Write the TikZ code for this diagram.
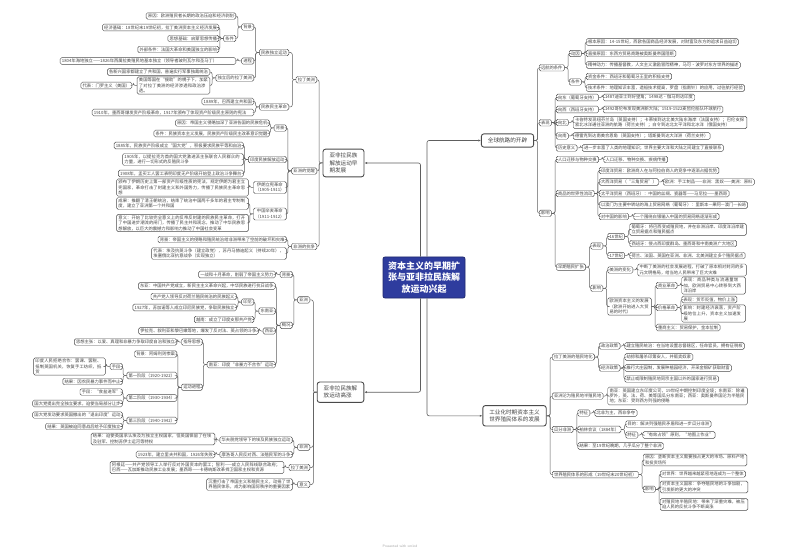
\documentclass[tikz,border=0pt]{standalone}
\usepackage{fontspec}
\newfontfamily\cjk{Noto Sans CJK SC}
\XeTeXlinebreaklocale "zh"
\XeTeXlinebreakskip = 0pt plus 0.5pt
\usetikzlibrary{arrows.meta}
\definecolor{bd}{HTML}{4A4A4A}
\definecolor{ln}{HTML}{5E5E5E}
\definecolor{tx}{HTML}{444444}
\definecolor{cb}{HTML}{2E3C9E}
\tikzset{
 bx/.style={draw=bd, fill=white, rounded corners=1.5pt, line width=0.45pt, inner xsep=1.8pt, inner ysep=1.25pt, font=\cjk\fontsize{4.3}{5.4}\selectfont, text=tx, align=left},
 lb/.style={bx, anchor=east},
 rb/.style={bx, anchor=west},
 mn/.style={draw=bd, fill=white, rounded corners=2.5pt, line width=0.9pt, inner xsep=6.5pt, inner ysep=4pt, font=\cjk\fontsize{5.6}{7.2}\selectfont, text=tx, align=left},
 ctr/.style={draw=cb!70!black, fill=cb, rounded corners=2pt, line width=0.8pt, font=\cjk\bfseries\fontsize{9}{11.5}\selectfont, text=white, align=center, minimum width=82pt, minimum height=41pt},
 conn/.style={draw=ln, line width=0.5pt, rounded corners=2pt},
 mconn/.style={draw=ln, line width=0.6pt, rounded corners=2pt, -{Latex[length=2.6pt,width=2.2pt]}}
}
\newcommand\lkL[2]{\draw[conn] (#1.west) -- ++(-3.5,0) |- (#2.east);}
\newcommand\lkR[2]{\draw[conn] (#1.east) -- ++(3.5,0) |- (#2.west);}
\begin{document}
\begin{tikzpicture}[x=1pt,y=-1pt]
\useasboundingbox (0,0) rectangle (800,553);
\fill[white] (0,0) rectangle (800,553);

% ---------- central and main nodes
\node[ctr] (c0) at (424,277.5) {资本主义的早期扩\\张与亚非拉民族解\\放运动兴起};
\node[mn] (A) at (343.5,163) {亚非拉民族\\解放运动早\\期发展};
\node[mn] (B) at (340.5,392.2) {亚非拉民族解\\放运动高涨};
\node[mn] (C) at (507.5,140.5) {全球航路的开辟};
\node[mn] (D) at (514.5,415.8) {工业化时期资本主义\\世界殖民体系的发展};
\draw[mconn] ([xshift=-3.5pt]c0.north) |- (A.east);
\draw[mconn] ([xshift=3pt]c0.north) |- (C.west);
\draw[mconn] ([xshift=-3.5pt]c0.south) |- (B.east);
\draw[mconn] ([xshift=3pt]c0.south) |- (D.west);

% ---------- A subtree
\node[lb] (a1) at (317,79.75) {拉丁美洲};
\node[lb] (a11) at (289,52.5) {民族独立运动};
\node[lb] (a111) at (254,27) {背景};
\node[lb] (a1111) at (236,16) {原因：欧洲殖民者长期的政治压迫和经济剥削};
\node[lb] (a1112) at (236,38.5) {条件};
\node[lb] (a11121) at (219,27.5) {经济基础：18世纪末19世纪初，拉丁美洲资本主义经济发展};
\node[lb] (a11122) at (219,38.5) {思想基础：启蒙思想传播};
\node[lb] (a11123) at (219,49.5) {外部条件：法国大革命和美国独立的影响};
\node[lb] (a112) at (254,61) {进程};
\node[lb, text width=172pt] (a1121) at (236,61) {1804年海地独立——1826年西属拉美殖民地基本独立（领导者玻利瓦尔和圣马丁）};
\node[lb] (a113) at (254,78) {独立后的拉丁美洲};
\node[lb] (a1131) at (210,72) {各新兴国家都建立了共和国，普遍实行军事独裁统治};
\node[lb, text width=69pt] (a1132) at (210,85.5) {美国等国在“援助”的幌子下，加紧了对拉丁美洲的经济渗透和政治渗透。};
\node[lb] (a11321) at (132,85.5) {代表：门罗主义（美国）};
\node[lb] (a12) at (289,107) {民族民主革命};
\node[lb] (a121) at (254,101.5) {1889年，巴西建立共和国};
\node[lb, text width=158pt] (a122) at (254,112.5) {1910年，墨西哥爆发资产阶级革命，1917年颁布了体现资产阶级民主原则的宪法};

\node[lb] (a2) at (317,171) {亚洲的觉醒};
\node[lb] (a21) at (286.5,128) {背景};
\node[lb] (a211) at (269.5,123) {原因：帝国主义侵略加深了亚洲各国的民族危机};
\node[lb] (a212) at (269.5,133.5) {条件：民族资本主义发展，民族资产阶级民主改革意识觉醒};
\node[lb] (a22) at (286.5,159.5) {印度民族解放运动};
\node[lb] (a221) at (243.5,145.5) {1885年，民族资产阶级成立“国大党”，积极要求民族平等和自治};
\node[lb, text width=117pt] (a222) at (243.5,159.5) {1905年，以提拉克为首的国大党激进派主张联合人民群众的力量，进行一切形式的反殖民斗争};
\node[lb] (a223) at (243.5,173.5) {1908年，孟买工人罢工表明印度无产阶级开始登上政治斗争舞台};
\node[lb, align=center] (a23) at (286.5,187.5) {伊朗立宪革命\\（1905-1911）};
\node[lb, text width=128pt] (a231) at (248.5,187.5) {颁布了伊朗历史上第一部资产阶级性质的宪法，规定伊朗为君主立宪国家，革命打击了封建主义和外国势力，传播了民族民主革命思想};
\node[lb, align=center] (a24) at (286.5,214) {中国辛亥革命\\（1911-1912）};
\node[lb, text width=128pt] (a241) at (248.5,203.5) {成果：推翻了清王朝统治，结束了统治中国两千多年的君主专制制度，建立了亚洲第一个共和国};
\node[lb, text width=128pt] (a242) at (248.5,223) {意义：开始了比较完全意义上的反帝反封建的民族民主革命，打开了中国进步潮流的闸门，传播了民主共和观念，推动了中华民族思想解放，以巨大的震撼力和影响力推动了中国社会变革};

\node[lb] (a3) at (317,246.5) {非洲的抗争};
\node[lb] (a31) at (286.5,239.5) {背景：帝国主义的侵略和殖民统治给非洲带来了空前的破坏和灾难};
\node[lb, text width=131pt] (a32) at (286.5,253.5) {代表：埃及抗英斗争（建立政党），苏丹马赫迪起义（持续20年），埃塞俄比亚抗意战争（实现独立）};

\lkL{A}{a1}\lkL{A}{a2}\lkL{A}{a3}
\lkL{a1}{a11}\lkL{a1}{a12}
\lkL{a11}{a111}\lkL{a11}{a112}\lkL{a11}{a113}
\lkL{a111}{a1111}\lkL{a111}{a1112}
\lkL{a1112}{a11121}\lkL{a1112}{a11122}\lkL{a1112}{a11123}
\lkL{a112}{a1121}
\lkL{a113}{a1131}\lkL{a113}{a1132}\lkL{a1132}{a11321}
\lkL{a12}{a121}\lkL{a12}{a122}
\lkL{a2}{a21}\lkL{a2}{a22}\lkL{a2}{a23}\lkL{a2}{a24}
\lkL{a21}{a211}\lkL{a21}{a212}
\lkL{a22}{a221}\lkL{a22}{a222}\lkL{a22}{a223}
\lkL{a23}{a231}
\lkL{a24}{a241}\lkL{a24}{a242}
\lkL{a3}{a31}\lkL{a3}{a32}

% ---------- B subtree
\node[lb] (b1) at (310,299.9) {亚洲};
\node[lb] (b11) at (292.5,274.5) {背景};
\node[lb] (b111) at (275.5,274.5) {一战和十月革命，削弱了帝国主义势力};
\node[lb] (b12) at (292.5,325.3) {概况};
\node[lb] (b121) at (275.5,286) {东亚：中国共产党成立，新民主主义革命兴起，中华民族进行抗日战争};
\node[lb] (b122) at (275.5,311) {东南亚};
\node[lb] (b1221) at (254,302) {印尼};
\node[lb] (b12211) at (236.5,296.5) {共产党人领导反对荷兰殖民统治的民族起义};
\node[lb] (b12212) at (236.5,307.5) {1927年，苏加诺等人成立印尼民族党，争取民族独立};
\node[lb] (b1222) at (254,319.5) {越南：成立了印度支那共产党};
\node[lb] (b123) at (275.5,331) {西亚};
\node[lb] (b1231) at (258.5,331) {伊拉克、叙利亚和黎巴嫩等地，爆发了反对法、英占领的斗争};
\node[lb] (b124) at (275.5,364.6) {南亚：印度“非暴力不合作”运动};
\node[lb] (b1241) at (202.5,342) {指导思想};
\node[lb] (b12411) at (177,342) {思想主张：以爱、真理和非暴力争取印度自治和独立};
\node[lb] (b1242) at (202.5,387.25) {运动进程};
\node[lb] (b12421) at (177,354) {背景：阿姆利则惨案};
\node[lb] (b12422) at (177,375.5) {第一阶段（1920-1922）};
\node[lb] (b124221) at (122.5,366.5) {手段};
\node[lb, text width=68pt] (b1242211) at (105.5,366.5) {印度人民拒绝合作：罢课、罢税、抵制英国机关，恢复手工纺织，抵货};
\node[lb] (b124222) at (122.5,381.5) {结果：因农民暴力事件而中止};
\node[lb] (b12423) at (177,398) {第二阶段（1930-1934）};
\node[lb] (b124231) at (122.5,392) {手段：“食盐进军”};
\node[lb] (b124232) at (122.5,403.5) {国大党提出完全独立要求，迫使当局部分让步};
\node[lb] (b12424) at (177,420.5) {第三阶段（1940-1942）};
\node[lb] (b124241) at (122.5,415) {国大党发动要求英国撤出的“退出印度”运动};
\node[lb] (b124242) at (122.5,426.5) {结果：英国被迫同意战后给予印度独立};

\node[lb] (b2) at (310,447.25) {非洲};
\node[lb] (b21) at (292.5,440) {华夫脱党领导下的埃及民族独立运动};
\node[lb, text width=120pt] (b211) at (215,439) {结果：迫使英国承认埃及为独立主权国家，但英国保留了在埃及驻军、控制苏伊士运河等特权};
\node[lb] (b22) at (292.5,454.5) {摩洛哥人民反对西、法殖民军的斗争};
\node[lb] (b221) at (215,454.5) {1923年，建立里夫共和国，1926年失败};
\node[lb] (b3) at (310,467.5) {拉丁美洲};
\node[lb, text width=170pt] (b31) at (284,467.5) {阿根廷——共产党领导工人举行反对外国资本的罢工；智利——成立人民阵线联合政府；巴西——瓦加斯推动民族工业发展；墨西哥——卡德纳斯改革捍卫国家主权和资源};
\node[lb] (b4) at (310,484.5) {意义};
\node[lb, text width=82pt] (b41) at (292.5,484.5) {沉重打击了帝国主义和殖民主义，动摇了世界殖民体系，成为影响国际秩序的重要因素};

\lkL{B}{b1}\lkL{B}{b2}\lkL{B}{b3}\lkL{B}{b4}
\lkL{b1}{b11}\lkL{b1}{b12}
\lkL{b11}{b111}
\lkL{b12}{b121}\lkL{b12}{b122}\lkL{b12}{b123}\lkL{b12}{b124}
\lkL{b122}{b1221}\lkL{b122}{b1222}
\lkL{b1221}{b12211}\lkL{b1221}{b12212}
\lkL{b123}{b1231}
\lkL{b124}{b1241}\lkL{b124}{b1242}
\lkL{b1241}{b12411}
\lkL{b1242}{b12421}\lkL{b1242}{b12422}\lkL{b1242}{b12423}\lkL{b1242}{b12424}
\lkL{b12422}{b124221}\lkL{b12422}{b124222}\lkL{b124221}{b1242211}
\lkL{b12423}{b124231}\lkL{b12423}{b124232}
\lkL{b12424}{b124241}\lkL{b12424}{b124242}
\lkL{b2}{b21}\lkL{b2}{b22}\lkL{b21}{b211}\lkL{b22}{b221}
\lkL{b3}{b31}\lkL{b4}{b41}

% ---------- C subtree
\node[rb] (c1) at (539,67.75) {远航的条件};
\node[rb] (c11) at (569,53.5) {动因};
\node[rb] (c111) at (586,42) {根本原因：14-15世纪，西欧各国商品经济发展，对财富及东方的追求日益迫切};
\node[rb] (c112) at (586,53.5) {直接原因：东西方贸易商路被奥斯曼帝国阻断};
\node[rb] (c113) at (586,65) {精神动力：传播基督教，人文主义激励冒险精神，马可·波罗对东方世界的描述};
\node[rb] (c12) at (569,82) {条件};
\node[rb] (c121) at (586,76.5) {资金条件：西班牙和葡萄牙王室的积极支持};
\node[rb] (c122) at (586,88) {技术条件：地理知识丰富，造船技术提高，罗盘（指南针）的应用，过往航行经验};
\node[rb] (c2) at (539,122.75) {表现};
\node[rb] (c21) at (556,97.5) {向东（葡萄牙支持）};
\node[rb] (c211) at (603,97.5) {1487迪亚士到好望角；1498达·伽马到达印度};
\node[rb] (c22) at (556,109.5) {向西（西班牙支持）};
\node[rb] (c221) at (603,109.5) {1492哥伦布发现美洲新大陆；1519-1522麦哲伦船队环球航行};
\node[rb] (c23) at (556,122.5) {向北};
\node[rb, text width=170pt] (c231) at (573,122.5) {卡伯特发现纽芬兰岛（英国支持）；卡蒂埃到达北美大陆东海岸（法国支持）；巴伦支探索北冰洋通往亚洲的航路（荷兰支持）；白令到达北太平洋和北冰洋（俄国支持）};
\node[rb] (c24) at (556,136) {向南};
\node[rb] (c241) at (573,136) {德雷克到达南美合恩角（英国支持）；塔斯曼到达大洋洲（荷兰支持）};
\node[rb] (c25) at (556,148) {历史意义};
\node[rb] (c251) at (582,148) {进一步丰富了人类的地理知识；世界主要大洋和大陆之间建立了直接联系};
\node[rb] (c3) at (539,213.3) {影响};
\node[rb] (c31) at (556,159.5) {人口迁移与物种交换};
\node[rb] (c311) at (603.5,159.5) {人口迁移、物种交换、疾病传播};
\node[rb] (c32) at (556,193.5) {商品的世界性流动};
\node[rb] (c321) at (599,170.5) {印度洋贸易：欧洲商人在与阿拉伯商人的竞争中逐渐占据优势};
\node[rb] (c322) at (599,182) {大西洋贸易（“三角贸易”）};
\node[rb] (c3221) at (663,182) {欧洲：手工制品——非洲：黑奴——美洲：原料};
\node[rb] (c323) at (599,193.5) {太平洋贸易（西班牙）：中国的丝绸、瓷器等——马尼拉——墨西哥};
\node[rb] (c324) at (599,205) {以澳门为主要中转站的海上贸易网络（葡萄牙）：里斯本—果阿—澳门—长崎};
\node[rb] (c325) at (599,216.5) {对中国的影响};
\node[rb] (c3251) at (633.5,216.5) {一个围绕白银输入中国的贸易网络逐渐形成};
\node[rb] (c33) at (556,267.1) {早期殖民扩张};
\node[rb] (c331) at (590.5,246) {表现};
\node[rb] (c3311) at (607.5,236.5) {16世纪};
\node[rb, text width=113pt] (c33111) at (629.5,229.5) {葡萄牙：将巴西变成殖民地，并在非洲沿岸、印度洋沿岸建立贸易据点和殖民据点};
\node[rb] (c33112) at (629.5,243.5) {西班牙：侵占西印度群岛、墨西哥和中南美洲广大地区};
\node[rb] (c3312) at (607.5,255.5) {17世纪};
\node[rb] (c33121) at (629.5,255.5) {荷兰、法国、英国在亚洲、非洲、北美洲建立多个殖民据点};
\node[rb] (c332) at (590.5,288.25) {影响};
\node[rb] (c3321) at (607.5,270) {美洲的变化};
\node[rb, text width=105pt] (c33211) at (637.5,270) {中断了美洲的社会发展进程，打破了原本相对封闭的多元文明格局，给当地人民带来了巨大灾难};
\node[rb, text width=40pt] (c3322) at (607.5,306.5) {欧洲资本主义的发展（欧洲开始进入大贸易的时代）};
\node[rb] (c33221) at (656,285.5) {商业革命};
\node[rb, text width=60pt] (c332211) at (681.5,285.5) {表现：商品种类与流通量增加，欧洲贸易中心转移到大西洋沿岸};
\node[rb] (c33222) at (656,307.5) {价格革命};
\node[rb] (c332221) at (681.5,299.5) {表现：货币贬值，物价上涨};
\node[rb, text width=60pt] (c332222) at (681.5,313.5) {影响：封建经济衰落，资产阶级地位上升，资本主义加速发展};
\node[rb] (c33223) at (656,327.5) {重商主义：贸易保护，金本位制};

\lkR{C}{c1}\lkR{C}{c2}\lkR{C}{c3}
\lkR{c1}{c11}\lkR{c1}{c12}
\lkR{c11}{c111}\lkR{c11}{c112}\lkR{c11}{c113}
\lkR{c12}{c121}\lkR{c12}{c122}
\lkR{c2}{c21}\lkR{c2}{c22}\lkR{c2}{c23}\lkR{c2}{c24}\lkR{c2}{c25}
\lkR{c21}{c211}\lkR{c22}{c221}\lkR{c23}{c231}\lkR{c24}{c241}\lkR{c25}{c251}
\lkR{c3}{c31}\lkR{c3}{c32}\lkR{c3}{c33}
\lkR{c31}{c311}
\lkR{c32}{c321}\lkR{c32}{c322}\lkR{c32}{c323}\lkR{c32}{c324}\lkR{c32}{c325}
\lkR{c322}{c3221}\lkR{c325}{c3251}
\lkR{c33}{c331}\lkR{c33}{c332}
\lkR{c331}{c3311}\lkR{c331}{c3312}
\lkR{c3311}{c33111}\lkR{c3311}{c33112}\lkR{c3312}{c33121}
\lkR{c332}{c3321}\lkR{c332}{c3322}
\lkR{c3321}{c33211}
\lkR{c3322}{c33221}\lkR{c3322}{c33222}\lkR{c3322}{c33223}
\lkR{c33221}{c332211}
\lkR{c33222}{c332221}\lkR{c33222}{c332222}

% ---------- D subtree
\node[rb] (d1) at (552,357) {拉丁美洲的殖民地化};
\node[rb] (d11) at (599,346) {政治政策};
\node[rb] (d111) at (624.5,346) {建立殖民统治：在当地设置总督辖区，任命官员，拥有征税权};
\node[rb] (d12) at (599,368) {经济政策};
\node[rb] (d121) at (624.5,357) {劫掠和屠杀印第安人，并贩卖奴隶};
\node[rb] (d122) at (624.5,368) {推行大庄园制，发展种植园经济，开采金银矿获取财富};
\node[rb] (d123) at (624.5,379) {禁止或限制殖民地同宗主国以外的国家进行贸易};
\node[rb] (d2) at (552,396) {亚洲沦为殖民地半殖民地};
\node[rb, text width=136pt] (d21) at (607.5,396) {南亚：英国建立东印度公司，19世纪中期控制印度全境；东南亚：除暹罗外，英、法、荷、美等国瓜分东南亚；西亚：奥斯曼帝国沦为半殖民地；东亚：受到西方列强的侵略};
\node[rb] (d3) at (552,429.5) {瓜分非洲};
\node[rb] (d31) at (577.5,413) {特征};
\node[rb] (d311) at (594.5,413) {北非为主，西非争夺};
\node[rb] (d32) at (577.5,429.5) {柏林会议（1884年）};
\node[rb] (d321) at (625.5,424) {目的：解决列强殖民矛盾和进一步瓜分非洲};
\node[rb] (d322) at (625.5,435) {特征};
\node[rb] (d3221) at (642.5,435) {“有效占领”原则，“地图上作业”};
\node[rb] (d33) at (577.5,446) {结果：至19世纪晚期，几乎瓜分了整个非洲};
\node[rb] (d4) at (552,474.6) {世界殖民体系的形成（19世纪末20世纪初）};
\node[rb, text width=100pt] (d41) at (643,460) {原因：垄断资本主义需要独占更大的市场、原料产地和投资场所};
\node[rb] (d42) at (643,489.25) {影响};
\node[rb] (d421) at (660,474) {对世界：世界越来越紧密地连成为一个整体};
\node[rb, text width=84pt] (d422) at (660,487) {对资本主义国家：争夺殖民地的斗争加剧，引发新的更大的冲突};
\node[rb, text width=84pt] (d423) at (660,504.5) {对殖民地半殖民地：带来了深重灾难，被压迫人民的反抗斗争不断高涨};

\lkR{D}{d1}\lkR{D}{d2}\lkR{D}{d3}\lkR{D}{d4}
\lkR{d1}{d11}\lkR{d1}{d12}\lkR{d11}{d111}
\lkR{d12}{d121}\lkR{d12}{d122}\lkR{d12}{d123}
\lkR{d2}{d21}
\lkR{d3}{d31}\lkR{d3}{d32}\lkR{d3}{d33}
\lkR{d31}{d311}\lkR{d32}{d321}\lkR{d32}{d322}\lkR{d322}{d3221}
\lkR{d4}{d41}\lkR{d4}{d42}
\lkR{d42}{d421}\lkR{d42}{d422}\lkR{d42}{d423}

\node[font=\sffamily\fontsize{3.6}{4}\selectfont, text=black!35] (ft) at (400,546) {Presented with xmind};
\end{tikzpicture}
\end{document}
